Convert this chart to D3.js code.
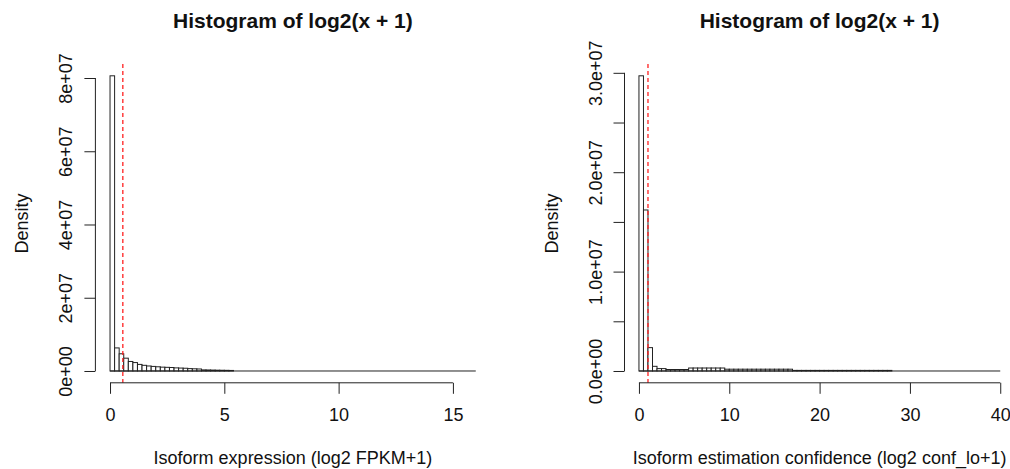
<!DOCTYPE html>
<html lang="en">
<head>
<meta charset="utf-8">
<title>Histogram of log2(x + 1)</title>
<script src="https://cdn.jsdelivr.net/npm/d3@7"></script>
<style>
  body { margin: 0; background: #fff; }
  svg text { font-family: "Liberation Sans", Arial, sans-serif; fill: #111; }
</style>
</head>
<body>
<div id="chart"></div>
<script>
// --- data (density values) ---
// left panel: bins of width 0.2 from 0 to 16
const exprBinWidth = 0.2;
const exprDensity = [
  80.6e6, 6.3e6, 4.7e6, 3.5e6, 2.6e6, 2.3e6, 1.8e6, 1.55e6, 1.37e6, 1.25e6,
  1.15e6, 1.05e6, 1.0e6, 0.95e6, 0.85e6, 0.8e6, 0.75e6, 0.65e6, 0.6e6, 0.55e6,
  0.3e6, 0.28e6, 0.25e6, 0.22e6, 0.2e6, 0.18e6, 0.15e6, 0, 0, 0,
  0, 0, 0, 0, 0, 0, 0, 0, 0, 0,
  0, 0, 0, 0, 0, 0, 0, 0, 0, 0,
  0, 0, 0, 0, 0, 0, 0, 0, 0, 0,
  0, 0, 0, 0, 0, 0, 0, 0, 0, 0,
  0, 0, 0, 0, 0, 0, 0, 0, 0, 0
];
const exprCutoff = 0.56;
const exprXTicks = [0, 5, 10, 15];
const exprYTicks = [0, 2e7, 4e7, 6e7, 8e7];
const exprYLabels = ["0e+00", "2e+07", "4e+07", "6e+07", "8e+07"];

// right panel: bins of width 0.5 from 0 to 40
const confBinWidth = 0.5;
const confDensity = [
  29.7e6, 16.2e6, 2.35e6, 0.47e6, 0.24e6, 0.24e6, 0.15e6, 0.15e6, 0.15e6, 0.15e6,
  0.15e6, 0.3e6, 0.3e6, 0.3e6, 0.3e6, 0.3e6, 0.3e6, 0.3e6, 0.3e6, 0.18e6,
  0.18e6, 0.18e6, 0.18e6, 0.18e6, 0.18e6, 0.18e6, 0.18e6, 0.18e6, 0.18e6, 0.18e6,
  0.18e6, 0.18e6, 0.18e6, 0.18e6, 0.06e6, 0.06e6, 0.06e6, 0.06e6, 0.06e6, 0.06e6,
  0.06e6, 0.06e6, 0.06e6, 0.06e6, 0.06e6, 0.06e6, 0.06e6, 0.06e6, 0.06e6, 0.06e6,
  0.06e6, 0.06e6, 0.06e6, 0.06e6, 0.06e6, 0.06e6, 0, 0, 0, 0,
  0, 0, 0, 0, 0, 0, 0, 0, 0, 0,
  0, 0, 0, 0, 0, 0, 0, 0, 0, 0
];
const confCutoff = 1.0;
const confXTicks = [0, 10, 20, 30, 40];
const confYTicks = [0, 5e6, 1e7, 1.5e7, 2e7, 2.5e7, 3e7];
const confYLabels = ["0.0e+00", "", "1.0e+07", "", "2.0e+07", "", "3.0e+07"];

const width = 1010;
const height = 469;

const svg = d3.select("#chart").append("svg")
  .attr("width", width)
  .attr("height", height);

// plot region shared by both panels (R style, 4% padding on axes)
const plotTop = 64;
const plotBottom = 382.8;

function drawPanel(opt) {
  const { density, binWidth, cutoff, xTicks, yTicks, yLabels, xLabel, left, right, xMax } = opt;
  const yMax = d3.max(density);

  const x = d3.scaleLinear()
    .domain([-0.04 * xMax, 1.04 * xMax])
    .range([left, right]);
  const y = d3.scaleLinear()
    .domain([-0.04 * yMax, 1.04 * yMax])
    .range([plotBottom, plotTop]);

  const g = svg.append("g");

  // bars
  g.selectAll("rect")
    .data(density)
    .enter()
    .append("rect")
    .attr("x", (d, i) => x(i * binWidth))
    .attr("width", x(binWidth) - x(0))
    .attr("y", d => y(d))
    .attr("height", d => y(0) - y(d))
    .attr("fill", "#fff")
    .attr("stroke", "#222")
    .attr("stroke-width", 1);

  // empty bins still draw as a flat line along zero
  g.append("line")
    .attr("x1", x(0)).attr("x2", x(density.length * binWidth))
    .attr("y1", y(0)).attr("y2", y(0))
    .attr("stroke", "#222");

  // cutoff line
  g.append("line")
    .attr("x1", x(cutoff)).attr("x2", x(cutoff))
    .attr("y1", plotTop).attr("y2", plotBottom)
    .attr("stroke", "#ff2020")
    .attr("stroke-width", 1.3)
    .attr("stroke-dasharray", "4,3");

  // x axis
  const xAxis = g.append("g")
    .attr("transform", `translate(0,${plotBottom})`)
    .call(d3.axisBottom(x).tickValues(xTicks).tickSize(11).tickPadding(14).tickFormat(d3.format("d")));
  xAxis.select(".domain").remove();
  xAxis.append("line")
    .attr("x1", x(xTicks[0])).attr("x2", x(xTicks[xTicks.length - 1]))
    .attr("stroke", "#222");
  xAxis.selectAll(".tick line").attr("stroke", "#222");
  xAxis.selectAll(".tick text")
    .attr("font-size", 18)
    .attr("fill", "#111");

  // y axis
  const yAxis = g.append("g")
    .attr("transform", `translate(${left},0)`)
    .call(d3.axisLeft(y).tickValues(yTicks).tickSize(11).tickFormat((d, i) => yLabels[i]));
  yAxis.select(".domain").remove();
  yAxis.append("line")
    .attr("y1", y(yTicks[0])).attr("y2", y(yTicks[yTicks.length - 1]))
    .attr("stroke", "#222");
  yAxis.selectAll(".tick line").attr("stroke", "#222");
  yAxis.selectAll(".tick text")
    .attr("font-size", 18)
    .attr("fill", "#111")
    .attr("x", 0).attr("dy", 0)
    .attr("text-anchor", "middle")
    .attr("transform", "translate(-23,0) rotate(-90)");

  // titles
  const cx = (left + right) / 2;
  g.append("text")
    .attr("x", cx).attr("y", 28)
    .attr("text-anchor", "middle")
    .attr("font-size", 21)
    .attr("font-weight", "bold")
    .text("Histogram of log2(x + 1)");
  g.append("text")
    .attr("x", cx).attr("y", 464)
    .attr("text-anchor", "middle")
    .attr("font-size", 18)
    .text(xLabel);
  g.append("text")
    .attr("transform", `translate(${left - 67},${(plotTop + plotBottom) / 2}) rotate(-90)`)
    .attr("text-anchor", "middle")
    .attr("font-size", 18)
    .text("Density");
}

drawPanel({
  density: exprDensity, binWidth: exprBinWidth, cutoff: exprCutoff,
  xTicks: exprXTicks, yTicks: exprYTicks, yLabels: exprYLabels,
  xLabel: "Isoform expression (log2 FPKM+1)",
  left: 95.4, right: 490.4, xMax: 16
});

drawPanel({
  density: confDensity, binWidth: confBinWidth, cutoff: confCutoff,
  xTicks: confXTicks, yTicks: confYTicks, yLabels: confYLabels,
  xLabel: "Isoform estimation confidence (log2 conf_lo+1)",
  left: 624.5, right: 1014.7, xMax: 40
});
</script>
</body>
</html>
